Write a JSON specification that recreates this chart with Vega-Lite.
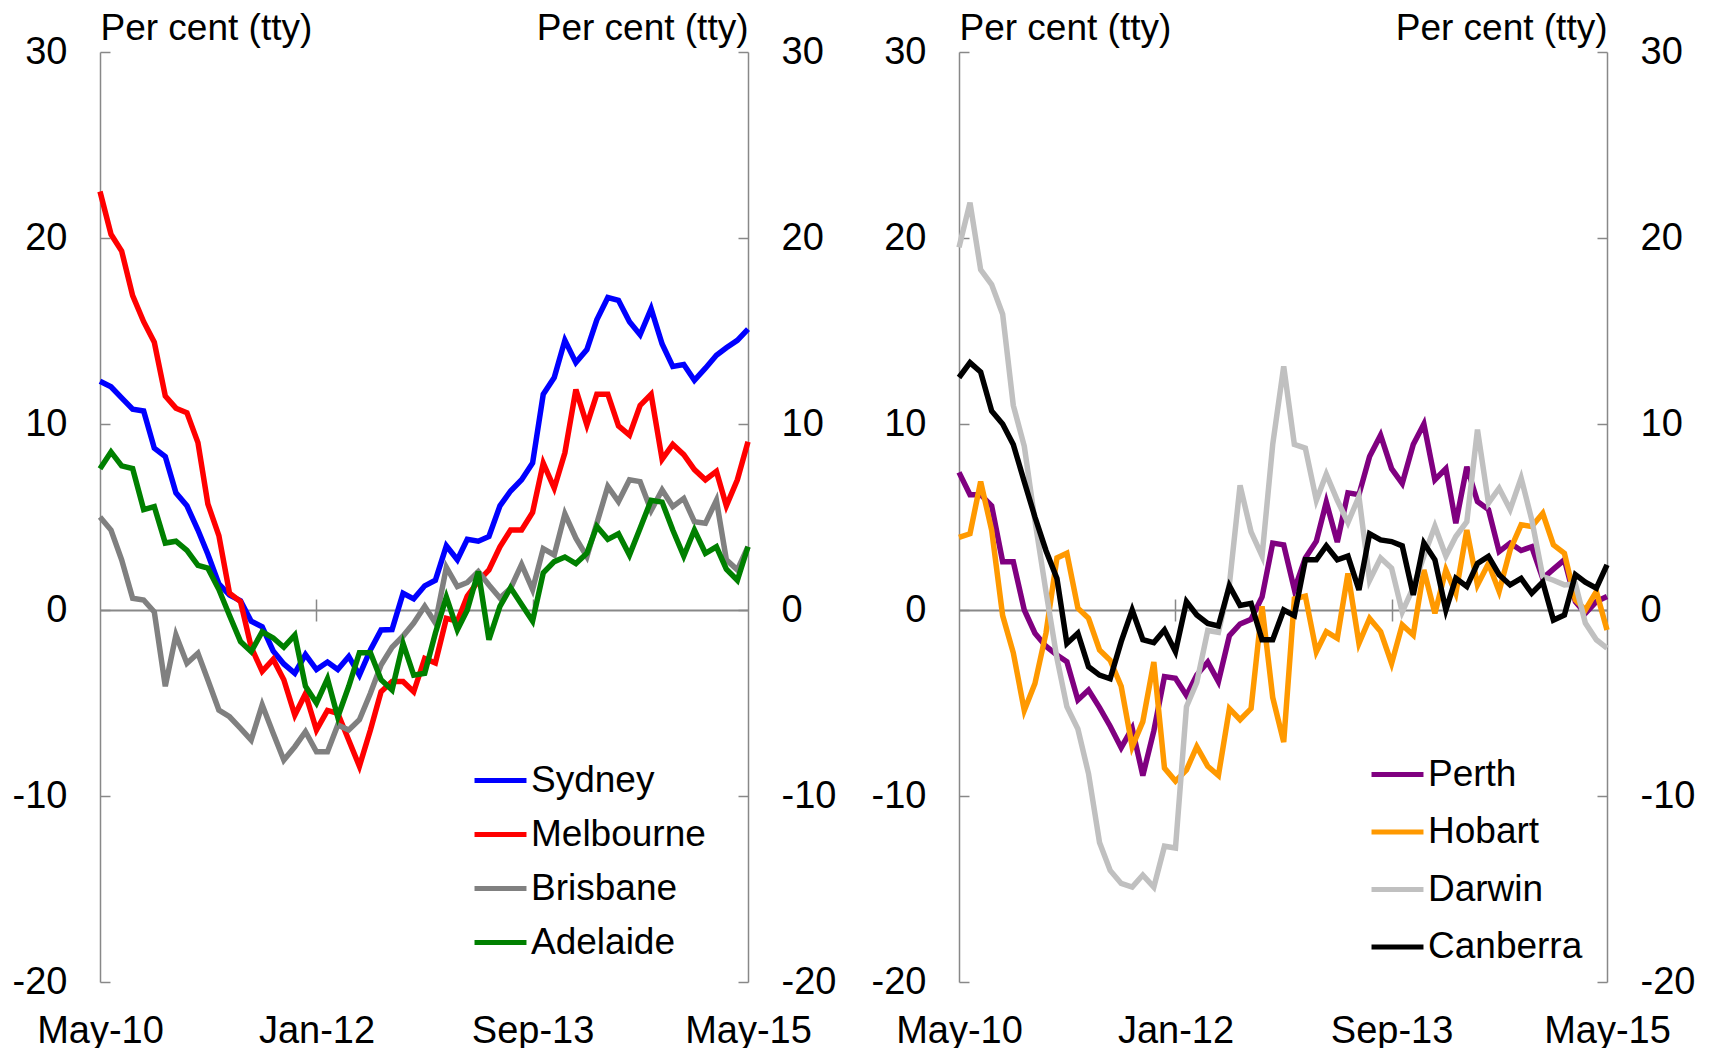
{
"$schema": "https://vega.github.io/schema/vega-lite/v6.json",
"padding": {"left": 12, "top": 9, "right": 5, "bottom": 0},
"background": "white",
"config": {"view": {"stroke": null}, "font": "Liberation Sans",
 "axis": {"grid": false, "labelColor": "#000000", "titleColor": "#000000", "domainColor": "#888888", "tickColor": "#888888", "labelFont": "Liberation Sans", "titleFont": "Liberation Sans", "titleFontWeight": "normal", "labelOverlap": false, "labelFlush": false}},
"datasets": {
"left": [
{"date":"2010-05","city":"Sydney","value":12.3},{"date":"2010-06","city":"Sydney","value":12.0},{"date":"2010-07","city":"Sydney","value":11.4},{"date":"2010-08","city":"Sydney","value":10.8},{"date":"2010-09","city":"Sydney","value":10.7},{"date":"2010-10","city":"Sydney","value":8.7},{"date":"2010-11","city":"Sydney","value":8.25},{"date":"2010-12","city":"Sydney","value":6.3},{"date":"2011-01","city":"Sydney","value":5.6},{"date":"2011-02","city":"Sydney","value":4.3},{"date":"2011-03","city":"Sydney","value":3.0},{"date":"2011-04","city":"Sydney","value":1.4},{"date":"2011-05","city":"Sydney","value":0.8},{"date":"2011-06","city":"Sydney","value":0.5},{"date":"2011-07","city":"Sydney","value":-0.6},{"date":"2011-08","city":"Sydney","value":-0.9},{"date":"2011-09","city":"Sydney","value":-2.2},{"date":"2011-10","city":"Sydney","value":-2.9},{"date":"2011-11","city":"Sydney","value":-3.4},{"date":"2011-12","city":"Sydney","value":-2.4},{"date":"2012-01","city":"Sydney","value":-3.2},{"date":"2012-02","city":"Sydney","value":-2.8},{"date":"2012-03","city":"Sydney","value":-3.2},{"date":"2012-04","city":"Sydney","value":-2.5},{"date":"2012-05","city":"Sydney","value":-3.5},{"date":"2012-06","city":"Sydney","value":-2.15},{"date":"2012-07","city":"Sydney","value":-1.07},{"date":"2012-08","city":"Sydney","value":-1.05},{"date":"2012-09","city":"Sydney","value":0.9},{"date":"2012-10","city":"Sydney","value":0.6},{"date":"2012-11","city":"Sydney","value":1.3},{"date":"2012-12","city":"Sydney","value":1.6},{"date":"2013-01","city":"Sydney","value":3.45},{"date":"2013-02","city":"Sydney","value":2.7},{"date":"2013-03","city":"Sydney","value":3.8},{"date":"2013-04","city":"Sydney","value":3.7},{"date":"2013-05","city":"Sydney","value":3.95},{"date":"2013-06","city":"Sydney","value":5.6},{"date":"2013-07","city":"Sydney","value":6.4},{"date":"2013-08","city":"Sydney","value":7.0},{"date":"2013-09","city":"Sydney","value":7.9},{"date":"2013-10","city":"Sydney","value":11.6},{"date":"2013-11","city":"Sydney","value":12.5},{"date":"2013-12","city":"Sydney","value":14.5},{"date":"2014-01","city":"Sydney","value":13.3},{"date":"2014-02","city":"Sydney","value":14.0},{"date":"2014-03","city":"Sydney","value":15.6},{"date":"2014-04","city":"Sydney","value":16.8},{"date":"2014-05","city":"Sydney","value":16.65},{"date":"2014-06","city":"Sydney","value":15.5},{"date":"2014-07","city":"Sydney","value":14.8},{"date":"2014-08","city":"Sydney","value":16.2},{"date":"2014-09","city":"Sydney","value":14.3},{"date":"2014-10","city":"Sydney","value":13.1},{"date":"2014-11","city":"Sydney","value":13.2},{"date":"2014-12","city":"Sydney","value":12.35},{"date":"2015-01","city":"Sydney","value":13.0},{"date":"2015-02","city":"Sydney","value":13.7},{"date":"2015-03","city":"Sydney","value":14.1},{"date":"2015-04","city":"Sydney","value":14.5},{"date":"2015-05","city":"Sydney","value":15.1},
{"date":"2010-05","city":"Melbourne","value":22.5},{"date":"2010-06","city":"Melbourne","value":20.2},{"date":"2010-07","city":"Melbourne","value":19.3},{"date":"2010-08","city":"Melbourne","value":16.9},{"date":"2010-09","city":"Melbourne","value":15.5},{"date":"2010-10","city":"Melbourne","value":14.4},{"date":"2010-11","city":"Melbourne","value":11.5},{"date":"2010-12","city":"Melbourne","value":10.85},{"date":"2011-01","city":"Melbourne","value":10.6},{"date":"2011-02","city":"Melbourne","value":9.0},{"date":"2011-03","city":"Melbourne","value":5.7},{"date":"2011-04","city":"Melbourne","value":4.0},{"date":"2011-05","city":"Melbourne","value":0.9},{"date":"2011-06","city":"Melbourne","value":0.45},{"date":"2011-07","city":"Melbourne","value":-2.0},{"date":"2011-08","city":"Melbourne","value":-3.3},{"date":"2011-09","city":"Melbourne","value":-2.65},{"date":"2011-10","city":"Melbourne","value":-3.75},{"date":"2011-11","city":"Melbourne","value":-5.65},{"date":"2011-12","city":"Melbourne","value":-4.5},{"date":"2012-01","city":"Melbourne","value":-6.45},{"date":"2012-02","city":"Melbourne","value":-5.4},{"date":"2012-03","city":"Melbourne","value":-5.55},{"date":"2012-04","city":"Melbourne","value":-7.0},{"date":"2012-05","city":"Melbourne","value":-8.4},{"date":"2012-06","city":"Melbourne","value":-6.45},{"date":"2012-07","city":"Melbourne","value":-4.4},{"date":"2012-08","city":"Melbourne","value":-3.85},{"date":"2012-09","city":"Melbourne","value":-3.85},{"date":"2012-10","city":"Melbourne","value":-4.4},{"date":"2012-11","city":"Melbourne","value":-2.6},{"date":"2012-12","city":"Melbourne","value":-2.85},{"date":"2013-01","city":"Melbourne","value":-0.45},{"date":"2013-02","city":"Melbourne","value":-0.6},{"date":"2013-03","city":"Melbourne","value":0.75},{"date":"2013-04","city":"Melbourne","value":1.55},{"date":"2013-05","city":"Melbourne","value":2.15},{"date":"2013-06","city":"Melbourne","value":3.4},{"date":"2013-07","city":"Melbourne","value":4.3},{"date":"2013-08","city":"Melbourne","value":4.3},{"date":"2013-09","city":"Melbourne","value":5.25},{"date":"2013-10","city":"Melbourne","value":7.9},{"date":"2013-11","city":"Melbourne","value":6.55},{"date":"2013-12","city":"Melbourne","value":8.45},{"date":"2014-01","city":"Melbourne","value":11.85},{"date":"2014-02","city":"Melbourne","value":9.95},{"date":"2014-03","city":"Melbourne","value":11.6},{"date":"2014-04","city":"Melbourne","value":11.6},{"date":"2014-05","city":"Melbourne","value":9.9},{"date":"2014-06","city":"Melbourne","value":9.4},{"date":"2014-07","city":"Melbourne","value":11.0},{"date":"2014-08","city":"Melbourne","value":11.6},{"date":"2014-09","city":"Melbourne","value":8.1},{"date":"2014-10","city":"Melbourne","value":8.9},{"date":"2014-11","city":"Melbourne","value":8.35},{"date":"2014-12","city":"Melbourne","value":7.55},{"date":"2015-01","city":"Melbourne","value":7.0},{"date":"2015-02","city":"Melbourne","value":7.45},{"date":"2015-03","city":"Melbourne","value":5.6},{"date":"2015-04","city":"Melbourne","value":7.0},{"date":"2015-05","city":"Melbourne","value":9.05},
{"date":"2010-05","city":"Brisbane","value":5.0},{"date":"2010-06","city":"Brisbane","value":4.3},{"date":"2010-07","city":"Brisbane","value":2.7},{"date":"2010-08","city":"Brisbane","value":0.63},{"date":"2010-09","city":"Brisbane","value":0.54},{"date":"2010-10","city":"Brisbane","value":-0.1},{"date":"2010-11","city":"Brisbane","value":-4.1},{"date":"2010-12","city":"Brisbane","value":-1.34},{"date":"2011-01","city":"Brisbane","value":-2.87},{"date":"2011-02","city":"Brisbane","value":-2.33},{"date":"2011-03","city":"Brisbane","value":-3.76},{"date":"2011-04","city":"Brisbane","value":-5.38},{"date":"2011-05","city":"Brisbane","value":-5.74},{"date":"2011-06","city":"Brisbane","value":-6.36},{"date":"2011-07","city":"Brisbane","value":-6.99},{"date":"2011-08","city":"Brisbane","value":-5.1},{"date":"2011-09","city":"Brisbane","value":-6.63},{"date":"2011-10","city":"Brisbane","value":-8.07},{"date":"2011-11","city":"Brisbane","value":-7.35},{"date":"2011-12","city":"Brisbane","value":-6.54},{"date":"2012-01","city":"Brisbane","value":-7.62},{"date":"2012-02","city":"Brisbane","value":-7.62},{"date":"2012-03","city":"Brisbane","value":-6.18},{"date":"2012-04","city":"Brisbane","value":-6.45},{"date":"2012-05","city":"Brisbane","value":-5.9},{"date":"2012-06","city":"Brisbane","value":-4.48},{"date":"2012-07","city":"Brisbane","value":-2.96},{"date":"2012-08","city":"Brisbane","value":-2.0},{"date":"2012-09","city":"Brisbane","value":-1.4},{"date":"2012-10","city":"Brisbane","value":-0.7},{"date":"2012-11","city":"Brisbane","value":0.2},{"date":"2012-12","city":"Brisbane","value":-0.7},{"date":"2013-01","city":"Brisbane","value":2.3},{"date":"2013-02","city":"Brisbane","value":1.26},{"date":"2013-03","city":"Brisbane","value":1.48},{"date":"2013-04","city":"Brisbane","value":2.07},{"date":"2013-05","city":"Brisbane","value":1.35},{"date":"2013-06","city":"Brisbane","value":0.64},{"date":"2013-07","city":"Brisbane","value":1.17},{"date":"2013-08","city":"Brisbane","value":2.45},{"date":"2013-09","city":"Brisbane","value":1.1},{"date":"2013-10","city":"Brisbane","value":3.3},{"date":"2013-11","city":"Brisbane","value":2.96},{"date":"2013-12","city":"Brisbane","value":5.17},{"date":"2014-01","city":"Brisbane","value":3.86},{"date":"2014-02","city":"Brisbane","value":2.87},{"date":"2014-03","city":"Brisbane","value":4.66},{"date":"2014-04","city":"Brisbane","value":6.64},{"date":"2014-05","city":"Brisbane","value":5.83},{"date":"2014-06","city":"Brisbane","value":7.0},{"date":"2014-07","city":"Brisbane","value":6.9},{"date":"2014-08","city":"Brisbane","value":5.35},{"date":"2014-09","city":"Brisbane","value":6.46},{"date":"2014-10","city":"Brisbane","value":5.56},{"date":"2014-11","city":"Brisbane","value":6.0},{"date":"2014-12","city":"Brisbane","value":4.75},{"date":"2015-01","city":"Brisbane","value":4.66},{"date":"2015-02","city":"Brisbane","value":5.9},{"date":"2015-03","city":"Brisbane","value":2.7},{"date":"2015-04","city":"Brisbane","value":2.16},{"date":"2015-05","city":"Brisbane","value":3.4},
{"date":"2010-05","city":"Adelaide","value":7.6},{"date":"2010-06","city":"Adelaide","value":8.5},{"date":"2010-07","city":"Adelaide","value":7.75},{"date":"2010-08","city":"Adelaide","value":7.6},{"date":"2010-09","city":"Adelaide","value":5.4},{"date":"2010-10","city":"Adelaide","value":5.56},{"date":"2010-11","city":"Adelaide","value":3.6},{"date":"2010-12","city":"Adelaide","value":3.7},{"date":"2011-01","city":"Adelaide","value":3.2},{"date":"2011-02","city":"Adelaide","value":2.4},{"date":"2011-03","city":"Adelaide","value":2.25},{"date":"2011-04","city":"Adelaide","value":1.1},{"date":"2011-05","city":"Adelaide","value":-0.3},{"date":"2011-06","city":"Adelaide","value":-1.7},{"date":"2011-07","city":"Adelaide","value":-2.24},{"date":"2011-08","city":"Adelaide","value":-1.17},{"date":"2011-09","city":"Adelaide","value":-1.5},{"date":"2011-10","city":"Adelaide","value":-2.0},{"date":"2011-11","city":"Adelaide","value":-1.35},{"date":"2011-12","city":"Adelaide","value":-4.1},{"date":"2012-01","city":"Adelaide","value":-5.0},{"date":"2012-02","city":"Adelaide","value":-3.7},{"date":"2012-03","city":"Adelaide","value":-5.75},{"date":"2012-04","city":"Adelaide","value":-4.1},{"date":"2012-05","city":"Adelaide","value":-2.3},{"date":"2012-06","city":"Adelaide","value":-2.3},{"date":"2012-07","city":"Adelaide","value":-3.75},{"date":"2012-08","city":"Adelaide","value":-4.3},{"date":"2012-09","city":"Adelaide","value":-1.8},{"date":"2012-10","city":"Adelaide","value":-3.5},{"date":"2012-11","city":"Adelaide","value":-3.4},{"date":"2012-12","city":"Adelaide","value":-1.25},{"date":"2013-01","city":"Adelaide","value":0.7},{"date":"2013-02","city":"Adelaide","value":-1.07},{"date":"2013-03","city":"Adelaide","value":0.0},{"date":"2013-04","city":"Adelaide","value":2.07},{"date":"2013-05","city":"Adelaide","value":-1.6},{"date":"2013-06","city":"Adelaide","value":0.2},{"date":"2013-07","city":"Adelaide","value":1.2},{"date":"2013-08","city":"Adelaide","value":0.3},{"date":"2013-09","city":"Adelaide","value":-0.6},{"date":"2013-10","city":"Adelaide","value":2.0},{"date":"2013-11","city":"Adelaide","value":2.6},{"date":"2013-12","city":"Adelaide","value":2.85},{"date":"2014-01","city":"Adelaide","value":2.5},{"date":"2014-02","city":"Adelaide","value":3.05},{"date":"2014-03","city":"Adelaide","value":4.5},{"date":"2014-04","city":"Adelaide","value":3.8},{"date":"2014-05","city":"Adelaide","value":4.1},{"date":"2014-06","city":"Adelaide","value":2.95},{"date":"2014-07","city":"Adelaide","value":4.4},{"date":"2014-08","city":"Adelaide","value":5.9},{"date":"2014-09","city":"Adelaide","value":5.8},{"date":"2014-10","city":"Adelaide","value":4.3},{"date":"2014-11","city":"Adelaide","value":2.9},{"date":"2014-12","city":"Adelaide","value":4.3},{"date":"2015-01","city":"Adelaide","value":3.05},{"date":"2015-02","city":"Adelaide","value":3.4},{"date":"2015-03","city":"Adelaide","value":2.2},{"date":"2015-04","city":"Adelaide","value":1.6},{"date":"2015-05","city":"Adelaide","value":3.4}
],
"right": [
{"date":"2010-05","city":"Perth","value":7.4},{"date":"2010-06","city":"Perth","value":6.2},{"date":"2010-07","city":"Perth","value":6.2},{"date":"2010-08","city":"Perth","value":5.6},{"date":"2010-09","city":"Perth","value":2.6},{"date":"2010-10","city":"Perth","value":2.6},{"date":"2010-11","city":"Perth","value":0.0},{"date":"2010-12","city":"Perth","value":-1.25},{"date":"2011-01","city":"Perth","value":-1.95},{"date":"2011-02","city":"Perth","value":-2.42},{"date":"2011-03","city":"Perth","value":-2.78},{"date":"2011-04","city":"Perth","value":-4.84},{"date":"2011-05","city":"Perth","value":-4.3},{"date":"2011-06","city":"Perth","value":-5.25},{"date":"2011-07","city":"Perth","value":-6.25},{"date":"2011-08","city":"Perth","value":-7.4},{"date":"2011-09","city":"Perth","value":-6.36},{"date":"2011-10","city":"Perth","value":-8.9},{"date":"2011-11","city":"Perth","value":-6.5},{"date":"2011-12","city":"Perth","value":-3.58},{"date":"2012-01","city":"Perth","value":-3.67},{"date":"2012-02","city":"Perth","value":-4.6},{"date":"2012-03","city":"Perth","value":-3.5},{"date":"2012-04","city":"Perth","value":-2.8},{"date":"2012-05","city":"Perth","value":-3.85},{"date":"2012-06","city":"Perth","value":-1.38},{"date":"2012-07","city":"Perth","value":-0.75},{"date":"2012-08","city":"Perth","value":-0.5},{"date":"2012-09","city":"Perth","value":0.7},{"date":"2012-10","city":"Perth","value":3.6},{"date":"2012-11","city":"Perth","value":3.5},{"date":"2012-12","city":"Perth","value":1.1},{"date":"2013-01","city":"Perth","value":2.8},{"date":"2013-02","city":"Perth","value":3.7},{"date":"2013-03","city":"Perth","value":5.8},{"date":"2013-04","city":"Perth","value":3.65},{"date":"2013-05","city":"Perth","value":6.3},{"date":"2013-06","city":"Perth","value":6.2},{"date":"2013-07","city":"Perth","value":8.25},{"date":"2013-08","city":"Perth","value":9.4},{"date":"2013-09","city":"Perth","value":7.6},{"date":"2013-10","city":"Perth","value":6.8},{"date":"2013-11","city":"Perth","value":8.9},{"date":"2013-12","city":"Perth","value":10.0},{"date":"2014-01","city":"Perth","value":7.0},{"date":"2014-02","city":"Perth","value":7.6},{"date":"2014-03","city":"Perth","value":4.67},{"date":"2014-04","city":"Perth","value":7.7},{"date":"2014-05","city":"Perth","value":5.83},{"date":"2014-06","city":"Perth","value":5.4},{"date":"2014-07","city":"Perth","value":3.14},{"date":"2014-08","city":"Perth","value":3.6},{"date":"2014-09","city":"Perth","value":3.2},{"date":"2014-10","city":"Perth","value":3.4},{"date":"2014-11","city":"Perth","value":1.7},{"date":"2014-12","city":"Perth","value":2.2},{"date":"2015-01","city":"Perth","value":2.7},{"date":"2015-02","city":"Perth","value":0.45},{"date":"2015-03","city":"Perth","value":-0.18},{"date":"2015-04","city":"Perth","value":0.45},{"date":"2015-05","city":"Perth","value":0.72},
{"date":"2010-05","city":"Hobart","value":3.9},{"date":"2010-06","city":"Hobart","value":4.1},{"date":"2010-07","city":"Hobart","value":6.9},{"date":"2010-08","city":"Hobart","value":4.3},{"date":"2010-09","city":"Hobart","value":-0.3},{"date":"2010-10","city":"Hobart","value":-2.3},{"date":"2010-11","city":"Hobart","value":-5.4},{"date":"2010-12","city":"Hobart","value":-3.95},{"date":"2011-01","city":"Hobart","value":-1.25},{"date":"2011-02","city":"Hobart","value":2.8},{"date":"2011-03","city":"Hobart","value":3.05},{"date":"2011-04","city":"Hobart","value":0.1},{"date":"2011-05","city":"Hobart","value":-0.45},{"date":"2011-06","city":"Hobart","value":-2.15},{"date":"2011-07","city":"Hobart","value":-2.7},{"date":"2011-08","city":"Hobart","value":-4.1},{"date":"2011-09","city":"Hobart","value":-7.35},{"date":"2011-10","city":"Hobart","value":-6.0},{"date":"2011-11","city":"Hobart","value":-2.8},{"date":"2011-12","city":"Hobart","value":-8.5},{"date":"2012-01","city":"Hobart","value":-9.2},{"date":"2012-02","city":"Hobart","value":-8.6},{"date":"2012-03","city":"Hobart","value":-7.35},{"date":"2012-04","city":"Hobart","value":-8.4},{"date":"2012-05","city":"Hobart","value":-8.9},{"date":"2012-06","city":"Hobart","value":-5.3},{"date":"2012-07","city":"Hobart","value":-5.9},{"date":"2012-08","city":"Hobart","value":-5.3},{"date":"2012-09","city":"Hobart","value":0.2},{"date":"2012-10","city":"Hobart","value":-4.7},{"date":"2012-11","city":"Hobart","value":-7.1},{"date":"2012-12","city":"Hobart","value":0.6},{"date":"2013-01","city":"Hobart","value":0.75},{"date":"2013-02","city":"Hobart","value":-2.24},{"date":"2013-03","city":"Hobart","value":-1.16},{"date":"2013-04","city":"Hobart","value":-1.52},{"date":"2013-05","city":"Hobart","value":1.97},{"date":"2013-06","city":"Hobart","value":-1.79},{"date":"2013-07","city":"Hobart","value":-0.45},{"date":"2013-08","city":"Hobart","value":-1.16},{"date":"2013-09","city":"Hobart","value":-2.87},{"date":"2013-10","city":"Hobart","value":-0.8},{"date":"2013-11","city":"Hobart","value":-1.34},{"date":"2013-12","city":"Hobart","value":2.16},{"date":"2014-01","city":"Hobart","value":-0.18},{"date":"2014-02","city":"Hobart","value":2.16},{"date":"2014-03","city":"Hobart","value":0.9},{"date":"2014-04","city":"Hobart","value":4.3},{"date":"2014-05","city":"Hobart","value":1.35},{"date":"2014-06","city":"Hobart","value":2.5},{"date":"2014-07","city":"Hobart","value":1.0},{"date":"2014-08","city":"Hobart","value":3.23},{"date":"2014-09","city":"Hobart","value":4.58},{"date":"2014-10","city":"Hobart","value":4.49},{"date":"2014-11","city":"Hobart","value":5.2},{"date":"2014-12","city":"Hobart","value":3.5},{"date":"2015-01","city":"Hobart","value":3.05},{"date":"2015-02","city":"Hobart","value":0.54},{"date":"2015-03","city":"Hobart","value":0.0},{"date":"2015-04","city":"Hobart","value":1.0},{"date":"2015-05","city":"Hobart","value":-1.07},
{"date":"2010-05","city":"Darwin","value":19.5},{"date":"2010-06","city":"Darwin","value":21.9},{"date":"2010-07","city":"Darwin","value":18.3},{"date":"2010-08","city":"Darwin","value":17.5},{"date":"2010-09","city":"Darwin","value":15.9},{"date":"2010-10","city":"Darwin","value":11.0},{"date":"2010-11","city":"Darwin","value":8.8},{"date":"2010-12","city":"Darwin","value":4.8},{"date":"2011-01","city":"Darwin","value":1.0},{"date":"2011-02","city":"Darwin","value":-2.6},{"date":"2011-03","city":"Darwin","value":-5.2},{"date":"2011-04","city":"Darwin","value":-6.4},{"date":"2011-05","city":"Darwin","value":-8.8},{"date":"2011-06","city":"Darwin","value":-12.5},{"date":"2011-07","city":"Darwin","value":-14.0},{"date":"2011-08","city":"Darwin","value":-14.7},{"date":"2011-09","city":"Darwin","value":-14.9},{"date":"2011-10","city":"Darwin","value":-14.25},{"date":"2011-11","city":"Darwin","value":-14.9},{"date":"2011-12","city":"Darwin","value":-12.7},{"date":"2012-01","city":"Darwin","value":-12.8},{"date":"2012-02","city":"Darwin","value":-5.2},{"date":"2012-03","city":"Darwin","value":-3.9},{"date":"2012-04","city":"Darwin","value":-1.1},{"date":"2012-05","city":"Darwin","value":-1.2},{"date":"2012-06","city":"Darwin","value":1.4},{"date":"2012-07","city":"Darwin","value":6.7},{"date":"2012-08","city":"Darwin","value":4.2},{"date":"2012-09","city":"Darwin","value":2.9},{"date":"2012-10","city":"Darwin","value":8.9},{"date":"2012-11","city":"Darwin","value":13.1},{"date":"2012-12","city":"Darwin","value":8.9},{"date":"2013-01","city":"Darwin","value":8.7},{"date":"2013-02","city":"Darwin","value":5.9},{"date":"2013-03","city":"Darwin","value":7.3},{"date":"2013-04","city":"Darwin","value":5.9},{"date":"2013-05","city":"Darwin","value":4.7},{"date":"2013-06","city":"Darwin","value":6.1},{"date":"2013-07","city":"Darwin","value":1.6},{"date":"2013-08","city":"Darwin","value":2.8},{"date":"2013-09","city":"Darwin","value":2.25},{"date":"2013-10","city":"Darwin","value":-0.1},{"date":"2013-11","city":"Darwin","value":1.2},{"date":"2013-12","city":"Darwin","value":2.9},{"date":"2014-01","city":"Darwin","value":4.5},{"date":"2014-02","city":"Darwin","value":2.9},{"date":"2014-03","city":"Darwin","value":3.95},{"date":"2014-04","city":"Darwin","value":4.75},{"date":"2014-05","city":"Darwin","value":9.7},{"date":"2014-06","city":"Darwin","value":5.75},{"date":"2014-07","city":"Darwin","value":6.55},{"date":"2014-08","city":"Darwin","value":5.4},{"date":"2014-09","city":"Darwin","value":7.1},{"date":"2014-10","city":"Darwin","value":4.85},{"date":"2014-11","city":"Darwin","value":1.8},{"date":"2014-12","city":"Darwin","value":1.6},{"date":"2015-01","city":"Darwin","value":1.35},{"date":"2015-02","city":"Darwin","value":1.4},{"date":"2015-03","city":"Darwin","value":-0.7},{"date":"2015-04","city":"Darwin","value":-1.6},{"date":"2015-05","city":"Darwin","value":-2.05},
{"date":"2010-05","city":"Canberra","value":12.5},{"date":"2010-06","city":"Canberra","value":13.3},{"date":"2010-07","city":"Canberra","value":12.8},{"date":"2010-08","city":"Canberra","value":10.7},{"date":"2010-09","city":"Canberra","value":10.0},{"date":"2010-10","city":"Canberra","value":8.9},{"date":"2010-11","city":"Canberra","value":6.9},{"date":"2010-12","city":"Canberra","value":5.0},{"date":"2011-01","city":"Canberra","value":3.2},{"date":"2011-02","city":"Canberra","value":1.7},{"date":"2011-03","city":"Canberra","value":-1.8},{"date":"2011-04","city":"Canberra","value":-1.25},{"date":"2011-05","city":"Canberra","value":-3.05},{"date":"2011-06","city":"Canberra","value":-3.5},{"date":"2011-07","city":"Canberra","value":-3.7},{"date":"2011-08","city":"Canberra","value":-1.7},{"date":"2011-09","city":"Canberra","value":0.0},{"date":"2011-10","city":"Canberra","value":-1.6},{"date":"2011-11","city":"Canberra","value":-1.75},{"date":"2011-12","city":"Canberra","value":-1.07},{"date":"2012-01","city":"Canberra","value":-2.24},{"date":"2012-02","city":"Canberra","value":0.45},{"date":"2012-03","city":"Canberra","value":-0.27},{"date":"2012-04","city":"Canberra","value":-0.72},{"date":"2012-05","city":"Canberra","value":-0.86},{"date":"2012-06","city":"Canberra","value":1.3},{"date":"2012-07","city":"Canberra","value":0.25},{"date":"2012-08","city":"Canberra","value":0.36},{"date":"2012-09","city":"Canberra","value":-1.6},{"date":"2012-10","city":"Canberra","value":-1.6},{"date":"2012-11","city":"Canberra","value":0.0},{"date":"2012-12","city":"Canberra","value":-0.3},{"date":"2013-01","city":"Canberra","value":2.7},{"date":"2013-02","city":"Canberra","value":2.7},{"date":"2013-03","city":"Canberra","value":3.45},{"date":"2013-04","city":"Canberra","value":2.7},{"date":"2013-05","city":"Canberra","value":2.9},{"date":"2013-06","city":"Canberra","value":1.08},{"date":"2013-07","city":"Canberra","value":4.1},{"date":"2013-08","city":"Canberra","value":3.77},{"date":"2013-09","city":"Canberra","value":3.68},{"date":"2013-10","city":"Canberra","value":3.45},{"date":"2013-11","city":"Canberra","value":0.81},{"date":"2013-12","city":"Canberra","value":3.6},{"date":"2014-01","city":"Canberra","value":2.7},{"date":"2014-02","city":"Canberra","value":0.0},{"date":"2014-03","city":"Canberra","value":1.7},{"date":"2014-04","city":"Canberra","value":1.26},{"date":"2014-05","city":"Canberra","value":2.5},{"date":"2014-06","city":"Canberra","value":2.88},{"date":"2014-07","city":"Canberra","value":1.9},{"date":"2014-08","city":"Canberra","value":1.35},{"date":"2014-09","city":"Canberra","value":1.7},{"date":"2014-10","city":"Canberra","value":0.9},{"date":"2014-11","city":"Canberra","value":1.5},{"date":"2014-12","city":"Canberra","value":-0.54},{"date":"2015-01","city":"Canberra","value":-0.27},{"date":"2015-02","city":"Canberra","value":1.9},{"date":"2015-03","city":"Canberra","value":1.5},{"date":"2015-04","city":"Canberra","value":1.17},{"date":"2015-05","city":"Canberra","value":2.43}
]
},
"bounds": "flush",
"spacing": 211,
"resolve": {"scale": {"color": "independent"}},
"hconcat": [
{
 "width": 648, "height": 930,
 "data": {"name": "left"},
 "layer": [
  {
   "mark": {"type": "line", "strokeWidth": 5.5},
   "encoding": {
    "x": {"field": "date", "type": "temporal",
      "scale": {"type": "utc", "nice": false, "domain": [{"year": 2010, "month": 5, "date": 1, "utc": true}, {"year": 2015, "month": 5, "date": 1, "utc": true}]},
      "axis": {"orient": "bottom", "title": null, "domain": false, "ticks": false, "labelFontSize": 38, "labelPadding": 60, "labelBaseline": "alphabetic", "labelAlign": "center", "labelExpr": "utcFormat(datum.value, '%b-%y')",
        "values": [{"year": 2010, "month": 5, "date": 1, "utc": true}, {"year": 2012, "month": 1, "date": 1, "utc": true}, {"year": 2013, "month": 9, "date": 1, "utc": true}, {"year": 2015, "month": 5, "date": 1, "utc": true}]}},
    "y": {"field": "value", "type": "quantitative",
      "scale": {"domain": [-20, 30], "nice": false, "zero": false},
      "axis": {"orient": "left", "values": [-20, -10, 0, 10, 20, 30], "labelExpr": "'' + datum.value", "tickSize": -10, "tickWidth": 1.5, "domainWidth": 1.5, "labelPadding": 43, "labelFontSize": 38, "labelBaseline": "middle",
        "title": "Per cent (tty)", "titleAngle": 0, "titleX": 0, "titleY": -13, "titleAlign": "left", "titleBaseline": "alphabetic", "titleFontSize": 37}},
    "color": {"field": "city", "type": "nominal",
      "scale": {"domain": ["Sydney", "Melbourne", "Brisbane", "Adelaide"], "range": ["#0000FF", "#FF0000", "#808080", "#008000"]},
      "legend": {"orient": "none", "legendX": 372, "legendY": 700, "title": null, "padding": 0, "symbolType": "stroke", "symbolSize": 2700, "symbolStrokeWidth": 5, "labelFontSize": 37, "labelColor": "#000000", "labelOffset": 2, "rowPadding": 7, "labelLimit": 400}}
   }
  },
  {
   "mark": {"type": "point", "opacity": 0},
   "encoding": {
    "x": {"field": "date", "type": "temporal",
      "axis": {"orient": "bottom", "offset": -372, "title": null, "labels": false, "domain": true, "domainWidth": 2, "ticks": true, "tickSize": 11, "tickWidth": 1.5,
        "values": [{"year": 2012, "month": 1, "date": 1, "utc": true}, {"year": 2013, "month": 9, "date": 1, "utc": true}]}},
    "y": {"field": "value", "type": "quantitative",
      "axis": {"orient": "right", "values": [-20, -10, 0, 10, 20, 30], "labelExpr": "'' + datum.value", "tickSize": -10, "tickWidth": 1.5, "domainWidth": 1.5, "labelPadding": 43, "labelFontSize": 38, "labelBaseline": "middle",
        "title": "Per cent (tty)", "titleAngle": 0, "titleX": 0, "titleY": -13, "titleAlign": "right", "titleBaseline": "alphabetic", "titleFontSize": 37}}
   }
  },
  {
   "mark": {"type": "point", "opacity": 0},
   "encoding": {
    "x": {"field": "date", "type": "temporal",
      "axis": {"orient": "bottom", "offset": -372, "title": null, "labels": false, "domain": false, "ticks": true, "tickSize": -11, "tickWidth": 1.5,
        "values": [{"year": 2012, "month": 1, "date": 1, "utc": true}, {"year": 2013, "month": 9, "date": 1, "utc": true}]}},
    "y": {"field": "value", "type": "quantitative", "axis": null}
   }
  }
 ],
 "resolve": {"axis": {"x": "independent", "y": "independent"}}
},
{
 "width": 648, "height": 930,
 "data": {"name": "right"},
 "layer": [
  {
   "mark": {"type": "line", "strokeWidth": 5.5},
   "encoding": {
    "x": {"field": "date", "type": "temporal",
      "scale": {"type": "utc", "nice": false, "domain": [{"year": 2010, "month": 5, "date": 1, "utc": true}, {"year": 2015, "month": 5, "date": 1, "utc": true}]},
      "axis": {"orient": "bottom", "title": null, "domain": false, "ticks": false, "labelFontSize": 38, "labelPadding": 60, "labelBaseline": "alphabetic", "labelAlign": "center", "labelExpr": "utcFormat(datum.value, '%b-%y')",
        "values": [{"year": 2010, "month": 5, "date": 1, "utc": true}, {"year": 2012, "month": 1, "date": 1, "utc": true}, {"year": 2013, "month": 9, "date": 1, "utc": true}, {"year": 2015, "month": 5, "date": 1, "utc": true}]}},
    "y": {"field": "value", "type": "quantitative",
      "scale": {"domain": [-20, 30], "nice": false, "zero": false},
      "axis": {"orient": "left", "values": [-20, -10, 0, 10, 20, 30], "labelExpr": "'' + datum.value", "tickSize": -10, "tickWidth": 1.5, "domainWidth": 1.5, "labelPadding": 43, "labelFontSize": 38, "labelBaseline": "middle",
        "title": "Per cent (tty)", "titleAngle": 0, "titleX": 0, "titleY": -13, "titleAlign": "left", "titleBaseline": "alphabetic", "titleFontSize": 37}},
    "color": {"field": "city", "type": "nominal",
      "scale": {"domain": ["Perth", "Hobart", "Darwin", "Canberra"], "range": ["#800080", "#FF9900", "#C0C0C0", "#000000"]},
      "legend": {"orient": "none", "legendX": 410, "legendY": 694, "title": null, "padding": 0, "symbolType": "stroke", "symbolSize": 2700, "symbolStrokeWidth": 5, "labelFontSize": 37, "labelColor": "#000000", "labelOffset": 2, "rowPadding": 10.5, "labelLimit": 400}}
   }
  },
  {
   "mark": {"type": "point", "opacity": 0},
   "encoding": {
    "x": {"field": "date", "type": "temporal",
      "axis": {"orient": "bottom", "offset": -372, "title": null, "labels": false, "domain": true, "domainWidth": 2, "ticks": true, "tickSize": 11, "tickWidth": 1.5,
        "values": [{"year": 2012, "month": 1, "date": 1, "utc": true}, {"year": 2013, "month": 9, "date": 1, "utc": true}]}},
    "y": {"field": "value", "type": "quantitative",
      "axis": {"orient": "right", "values": [-20, -10, 0, 10, 20, 30], "labelExpr": "'' + datum.value", "tickSize": -10, "tickWidth": 1.5, "domainWidth": 1.5, "labelPadding": 43, "labelFontSize": 38, "labelBaseline": "middle",
        "title": "Per cent (tty)", "titleAngle": 0, "titleX": 0, "titleY": -13, "titleAlign": "right", "titleBaseline": "alphabetic", "titleFontSize": 37}}
   }
  },
  {
   "mark": {"type": "point", "opacity": 0},
   "encoding": {
    "x": {"field": "date", "type": "temporal",
      "axis": {"orient": "bottom", "offset": -372, "title": null, "labels": false, "domain": false, "ticks": true, "tickSize": -11, "tickWidth": 1.5,
        "values": [{"year": 2012, "month": 1, "date": 1, "utc": true}, {"year": 2013, "month": 9, "date": 1, "utc": true}]}},
    "y": {"field": "value", "type": "quantitative", "axis": null}
   }
  }
 ],
 "resolve": {"axis": {"x": "independent", "y": "independent"}}
}
]
}
